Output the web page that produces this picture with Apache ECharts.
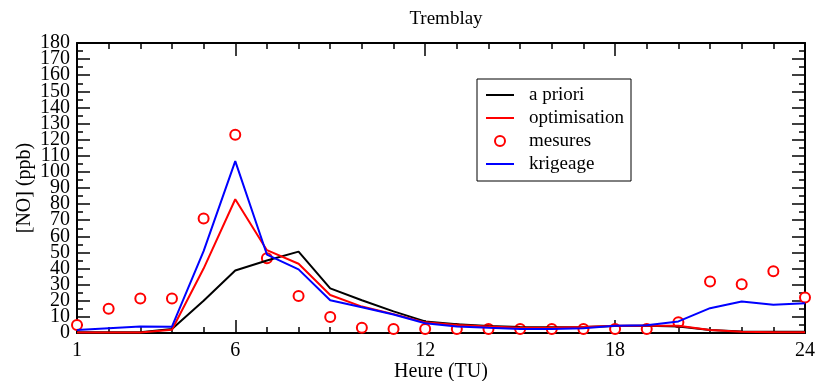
<!DOCTYPE html>
<html>
<head>
    <meta charset="utf-8">
    <style>
        html, body {
            height: 100%;
            margin: 0;
            padding: 0;
            background: #fff;
        }

        .container {
            width: 816px;
            height: 381px;
        }
    </style>
</head>
<body>
<div id="main" class="container"></div>

<script src="https://cdn.jsdelivr.net/npm/echarts@6/dist/echarts.min.js"></script>
<script type="text/javascript">
// donnees
var heures = [1, 2, 3, 4, 5, 6, 7, 8, 9, 10, 11, 12, 13, 14, 15, 16, 17, 18, 19, 20, 21, 22, 23, 24];
var xLabels = [1, 6, 12, 18, 24];
var yLabelsPairs = [0, 20, 40, 60, 80, 100, 120, 140, 160, 180];
var yLabelsImpairs = [10, 30, 50, 70, 90, 110, 130, 150, 170];
var aPriori = [0.5, 0.5, 0.5, 2.5, 20, 38.8, 45, 50.5, 27.7, 20.3, 13.4, 7.2, 5.5, 4.3, 3.8, 3.6, 3.8, 4.3, 4.5, 4, 1.8, 1, 0.8, 0.8];
var optimisation = [0.3, 0.3, 0.3, 2, 40, 83, 51.4, 43, 23.6, 16.4, 11.7, 6.6, 5, 4, 3.3, 3.3, 3.8, 4.5, 4.5, 4.5, 1.8, 0.8, 0.5, 0.5];
var mesures = [5, 15, 21.4, 21.4, 71, 123, 46.4, 23, 10, 3.3, 2.5, 2.5, 2.5, 2.5, 2.5, 2.5, 2.5, 2.5, 2.5, 6.6, 32, 30.2, 38.4, 22];
var krigeage = [1.8, 2.9, 4, 3.9, 50.8, 106.7, 48.7, 39.5, 20.3, 16, 11.5, 6, 4.1, 3.2, 2.5, 2.5, 3, 4.5, 4.8, 7.2, 15.4, 19.5, 17.5, 18.5];

function paires(vals) {
    return heures.map(function (h, i) { return [h, vals[i]]; });
}

var police = 'Liberation Serif';
var noir = '#000';
var trait = 'path://M0,0H28V2H0Z';

var myChart = echarts.init(document.getElementById('main'));

function axeX(pos, labels, longs) {
    return {
        type: 'value',
        position: pos,
        min: 1,
        max: 24,
        interval: 1,
        axisLine: {show: !longs, onZero: false, lineStyle: {color: noir, width: 2}},
        axisTick: longs
            ? {show: true, inside: true, length: 13, customValues: xLabels, lineStyle: {color: noir, width: 1.5}}
            : {show: true, inside: true, length: 6, lineStyle: {color: noir, width: 1.5}},
        axisLabel: labels
            ? {show: true, customValues: xLabels, showMinLabel: true, showMaxLabel: true,
               margin: 8, color: noir, fontFamily: police, fontSize: 20}
            : {show: false},
        splitLine: {show: false}
    };
}

// axe y : un axe pour le cadre et les graduations, les etiquettes en deux passes
function axeY(pos, vals, cadre) {
    return {
        type: 'value',
        position: pos,
        min: 0,
        max: 180,
        interval: 10,
        axisLine: {show: cadre, onZero: false, lineStyle: {color: noir, width: 2}},
        axisTick: {show: cadre, inside: true, length: 13, lineStyle: {color: noir, width: 1.5}},
        minorTick: {show: cadre, splitNumber: 2, length: 6, lineStyle: {color: noir, width: 1.5}},
        axisLabel: vals
            ? {show: true, customValues: vals, showMinLabel: true, showMaxLabel: true,
               margin: 7, color: noir, fontFamily: police, fontSize: 20}
            : {show: false},
        splitLine: {show: false},
        minorSplitLine: {show: false}
    };
}

var xBas = axeX('bottom', true, false);
xBas.name = 'Heure (TU)';
xBas.nameLocation = 'middle';
xBas.nameGap = 29;
xBas.nameMoveOverlap = false;
xBas.nameTextStyle = {color: noir, fontFamily: police, fontSize: 20};

var yGauche = axeY('left', yLabelsPairs, true);
yGauche.name = '[NO] (ppb)';
yGauche.nameLocation = 'middle';
yGauche.nameGap = 42;
yGauche.nameMoveOverlap = false;
yGauche.nameTextStyle = {color: noir, fontFamily: police, fontSize: 20};

var option = {
    animation: false,
    backgroundColor: '#fff',
    title: {
        text: 'Tremblay',
        left: 441,
        top: 5,
        textAlign: 'center',
        textStyle: {color: noir, fontFamily: police, fontSize: 19, fontWeight: 'normal'}
    },
    grid: {left: 77, right: 11, top: 43, bottom: 48, containLabel: false, outerBoundsMode: 'none'},
    legend: {
        left: 477,
        top: 79,
        orient: 'vertical',
        backgroundColor: '#fff',
        borderColor: noir,
        borderWidth: 1,
        borderRadius: 0,
        padding: [6, 7, 7, 9],
        itemGap: 3,
        itemWidth: 28,
        itemHeight: 10,
        symbolKeepAspect: true,
        textStyle: {color: noir, fontFamily: police, fontSize: 19, lineHeight: 20, padding: [0, 0, 0, 10]},
        data: [
            {name: 'a priori', icon: trait},
            {name: 'optimisation', icon: trait},
            {name: 'mesures'},
            {name: 'krigeage', icon: trait}
        ]
    },
    xAxis: [xBas, axeX('bottom', false, true), axeX('top', false, false), axeX('top', false, true)],
    yAxis: [yGauche, axeY('right', null, true), axeY('left', yLabelsImpairs, false)],
    series: [
        {
            name: 'a priori',
            type: 'line',
            data: paires(aPriori),
            symbol: 'none',
            lineStyle: {color: '#000000', width: 2},
            itemStyle: {color: '#000000'}
        },
        {
            name: 'optimisation',
            type: 'line',
            data: paires(optimisation),
            symbol: 'none',
            lineStyle: {color: '#ff0000', width: 2},
            itemStyle: {color: '#ff0000'}
        },
        {
            name: 'mesures',
            type: 'scatter',
            data: paires(mesures),
            symbol: 'emptyCircle',
            symbolSize: 10,
            itemStyle: {color: '#ff0000', borderColor: '#ff0000', borderWidth: 2, opacity: 1}
        },
        {
            name: 'krigeage',
            type: 'line',
            data: paires(krigeage),
            symbol: 'none',
            lineStyle: {color: '#0000ff', width: 2},
            itemStyle: {color: '#0000ff'}
        }
    ]
};

myChart.setOption(option);
</script>
</body>
</html>
